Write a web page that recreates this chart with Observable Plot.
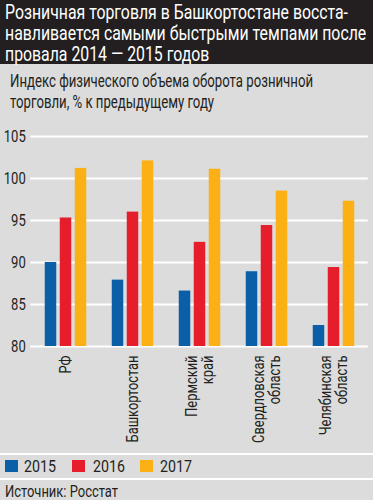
<!DOCTYPE html>
<html><head><meta charset="utf-8">
<script src="https://cdn.jsdelivr.net/npm/d3@7"></script>
<script src="https://cdn.jsdelivr.net/npm/@observablehq/plot@0.6"></script>
<style>
body{margin:0;width:373px;height:500px;background:#dcdcdc;overflow:hidden;font-family:Roboto,sans-serif;color:#231f20}
#title{background:#231f20;color:#fff;height:64px;box-sizing:border-box;padding:2px 0 0 5px;font-size:21px;line-height:21px;white-space:nowrap}
#sub{height:54px;box-sizing:border-box;padding:6px 0 0 10px;font-size:18px;line-height:21px;white-space:nowrap}
#chart{height:335px}
#legend{border-top:2px solid #fff;height:23px;position:relative;font-size:17px;white-space:nowrap}
#legend .sw{position:absolute;top:5px;width:13px;height:12px}
#legend .lt{position:absolute;top:1px;transform-origin:0 0}
#source{border-top:2px solid #fff;font-size:16px;padding:2px 0 0 5px;white-space:nowrap}
.ln{display:block;width:max-content;transform-origin:0 0}
</style></head>
<body>
<div id="title"></div>
<div id="sub"></div>
<div id="chart"></div>
<div id="legend"></div>
<div id="source"><span class="ln" id="srctext">Источник: Росстат</span></div>
<script>
const titleLines = ["Розничная торговля в Башкортостане восста-", "навливается самыми быстрыми темпами после", "провала 2014 — 2015 годов"];
const subtitleLines = ["Индекс физического объема оборота розничной", "торговли, % к предыдущему году"];
const regions = ["РФ", "Башкортостан", "Пермский\nкрай", "Свердловская\nобласть", "Челябинская\nобласть"];
const years = ["2015", "2016", "2017"];
const colors = ["#0a5fa6", "#e61e2b", "#fbb116"];
const v2015 = [90.0, 87.9, 86.6, 88.9, 82.5];
const v2016 = [95.3, 96.0, 92.4, 94.4, 89.4];
const v2017 = [101.2, 102.1, 101.1, 98.5, 97.3];
const yTicks = [80, 85, 90, 95, 100, 105];

// condensed-look fitting: measured target widths from the reference (layout only)
function fitLines(el, lines, targetFirst) {
  el.innerHTML = lines.map(t => `<span class="ln">${t}</span>`).join("");
  const spans = el.querySelectorAll(".ln");
  const k = targetFirst / spans[0].getBoundingClientRect().width;
  spans.forEach(s => s.style.transform = `scaleX(${k})`);
  return k;
}
fitLines(document.getElementById("title"), titleLines, 343);
fitLines(document.getElementById("sub"), subtitleLines, 303);
const src = document.getElementById("srctext");
src.style.transform = `scaleX(${113 / src.getBoundingClientRect().width})`;

const series = [v2015, v2016, v2017];
const data = series.flatMap((vals, i) => regions.map((r, j) => ({region: r, year: years[i], value: vals[j]})));

const chart = Plot.plot({
  width: 373, height: 335,
  marginLeft: 30.25, marginRight: 5.25, marginTop: 18, marginBottom: 107,
  style: {background: "transparent", fontFamily: "Roboto, sans-serif", fontSize: "17px", color: "#231f20", overflow: "visible"},
  x: {domain: regions, padding: 0, axis: null},
  y: {domain: [80, 105], axis: null},
  color: {domain: years, range: colors},
  marks: [
    Plot.ruleY(yTicks, {stroke: "#fff", strokeWidth: 2}),
    ...years.map((yr, i) => Plot.barY(data.filter(d => d.year === yr), {
      x: "region", y1: 80, y2: "value", fill: "year",
      insetLeft: 27.75, insetRight: 27.75, dx: (i - 1) * 15
    })),
    Plot.text(yTicks, {y: d => d, text: d => String(d), frameAnchor: "left", textAnchor: "end", dx: -5, fontSize: 17, fill: "#231f20"}),
    Plot.text(regions, {x: d => d, y: 80, text: d => d, rotate: -90, textAnchor: "end", lineAnchor: "middle", dy: 9, fontSize: 17, lineHeight: 0.95, fill: "#231f20"})
  ]
});
document.getElementById("chart").appendChild(chart);

// horizontal condensing of SVG labels along their reading direction
const textGroups = chart.querySelectorAll('g[aria-label="text"]');
const yLabels = textGroups[0].querySelectorAll("text");
const kY = 22 / yLabels[yLabels.length - 1].getBBox().width; // "105"
yLabels.forEach(t => t.setAttribute("transform", (t.getAttribute("transform") || "") + ` scale(${kY},1)`));
const xLabels = textGroups[1].querySelectorAll("text");
const kX = 87 / xLabels[1].getBBox().width; // "Башкортостан"
xLabels.forEach(t => t.setAttribute("transform", (t.getAttribute("transform") || "") + ` scale(${kX},1)`));

const lg = document.getElementById("legend");
const swX = [5, 72, 140], txX = [24, 93, 160];
lg.innerHTML = years.map((y, i) => `<span class="sw" style="background:${colors[i]};left:${swX[i]}px"></span><span class="lt" style="left:${txX[i]}px">${y}</span>`).join("");
lg.querySelectorAll(".lt").forEach(s => s.style.transform = `scaleX(${32 / s.getBoundingClientRect().width})`);
</script>
</body></html>
